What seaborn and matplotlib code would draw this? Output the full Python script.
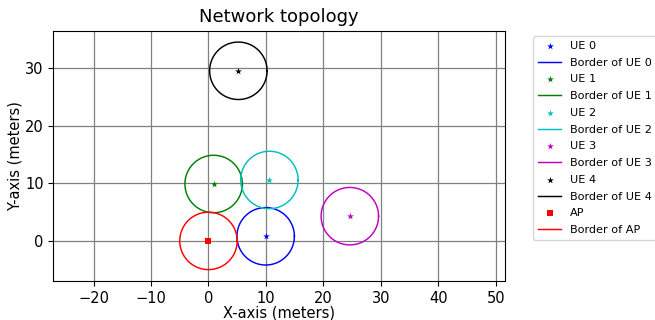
import numpy as np
import matplotlib
matplotlib.use("Agg")
import matplotlib.pyplot as plt
import seaborn as sns

# Node positions (meters) and coverage radius
ue_names = ["UE 0", "UE 1", "UE 2", "UE 3", "UE 4"]
ue_x = [9.95, 0.9, 10.6, 24.6, 5.2]
ue_y = [0.8, 9.9, 10.6, 4.3, 29.6]
ap_name = "AP"
ap_x = 0.0
ap_y = 0.0
border_radius = 5.0

ue_colors = ["b", "g", "c", "m", "k"]
ap_color = "r"

fig = plt.figure(figsize=(6.55, 3.2), dpi=100)
ax = fig.add_axes([0.0814, 0.1219, 0.6896, 0.7822])

theta = np.linspace(0, 2 * np.pi, 300)


def draw_node(x, y, name, color, marker, size):
    sns.scatterplot(x=[x], y=[y], marker=marker, s=size, color=color,
                    linewidth=0, label=name, ax=ax, zorder=3)
    sns.lineplot(x=x + border_radius * np.cos(theta),
                 y=y + border_radius * np.sin(theta),
                 sort=False, estimator=None, color=color, linewidth=1.05,
                 label=f"Border of {name}", ax=ax, zorder=2)


for x, y, name, c in zip(ue_x, ue_y, ue_names, ue_colors):
    draw_node(x, y, name, c, "*", 26)
draw_node(ap_x, ap_y, ap_name, ap_color, "s", 21)

ax.set_aspect("equal", adjustable="datalim")
ax.grid(True, color="gray", linewidth=0.9)
ax.set_axisbelow(True)
ax.tick_params(labelsize=10.5)
ax.set_title("Network topology", fontsize=13)
ax.set_xlabel("X-axis (meters)", fontsize=10.5, labelpad=0)
ax.set_ylabel("Y-axis (meters)", fontsize=10.5, labelpad=2)
ax.legend(bbox_to_anchor=(1.05, 1), loc="upper left", fontsize=8.1,
          labelspacing=0.6, handlelength=2.1)

fig.savefig("out.png", dpi=100)
